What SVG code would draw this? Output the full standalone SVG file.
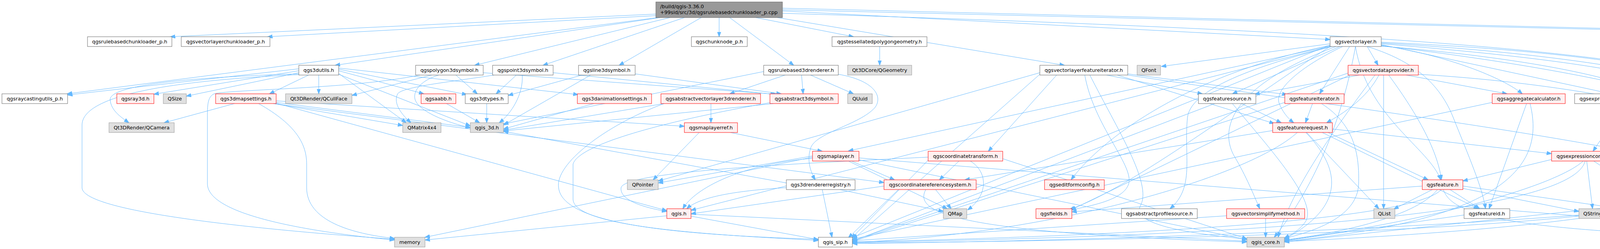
<svg xmlns="http://www.w3.org/2000/svg" width="5230" height="637" viewBox="0 0 5230 637">
<defs>
<marker id="a" viewBox="0 0 13 10" refX="12.5" refY="5" markerWidth="13" markerHeight="10" markerUnits="userSpaceOnUse" orient="auto"><path d="M0,0.3 L13,5 L0,9.7 z" fill="#63b8ff" stroke="#63b8ff" stroke-width="1"/></marker>
</defs>
<style>
.e path{fill:none;stroke:#63b8ff;stroke-width:1;marker-end:url(#a)}
.w rect{fill:#ffffff;stroke:#666666;stroke-width:1}
.r rect{fill:#fff0f0;stroke:#ff0000;stroke-width:1}
.g rect{fill:#e0e0e0;stroke:#999999;stroke-width:1}
.root rect{fill:#999999;stroke:#666666;stroke-width:1}
text{font-family:"DejaVu Sans","Liberation Sans",sans-serif;font-size:12.8px;fill:#000000;text-anchor:middle}
.root text{text-anchor:start}
</style>
<rect x="0" y="0" width="5230" height="637" fill="#ffffff"/>
<g id="connectors" class="e">
<path d="M1679,36 L436,94"/>
<path d="M1679,40 L685,94"/>
<path d="M1684,45 L172,240"/>
<path d="M1690,45 L858,167"/>
<path d="M1715,45 L1215,167"/>
<path d="M1752,45 L1390,167"/>
<path d="M1795,45 L1585,167"/>
<path d="M1841,45 L1841,94"/>
<path d="M1868,45 L2032,167"/>
<path d="M1935,45 L2185,94"/>
<path d="M2003,28 L3405,101"/>
<path d="M1990,45 L2725,167"/>
<path d="M2003,34 C4200,100 4800,180 4698,460"/>
<path d="M2003,25 L4928,95"/>
<path d="M2003,21 L5061,96"/>
<path d="M765,176 L173,243"/>
<path d="M765,181 L394,241"/>
<path d="M765,186 L477,246"/>
<path d="M790,192 L690,240"/>
<path d="M816,192 L816,240"/>
<path d="M765,189 C520,196 280,215 282,255 C284,283 310,300 330,314"/>
<path d="M867,181 L1085,240"/>
<path d="M867,177 L1195,242"/>
<path d="M867,188 L1040,314"/>
<path d="M867,190 L1204,322"/>
<path d="M867,174 L1480,242"/>
<path d="M765,191 C460,205 210,240 210,320 L210,480 C210,545 700,590 1010,612"/>
<path d="M1105,192 L901,244"/>
<path d="M1167,192 L1222,240"/>
<path d="M1123,192 C1080,205 1058,230 1062,252 C1068,285 1150,315 1204,327"/>
<path d="M1237,186 L1985,241"/>
<path d="M1075,192 C900,228 600,228 548,240 C531,248 531,270 531,300 L531,470 C531,560 860,600 1010,614"/>
<path d="M1322,192 L1270,240"/>
<path d="M1337,192 C1340,240 1310,290 1278,314"/>
<path d="M1265,192 C1150,210 1030,222 1018,240 C1005,265 1030,295 1052,314"/>
<path d="M1416,186 L1990,242"/>
<path d="M1490,192 L1301,244"/>
<path d="M1512,192 L1289,320"/>
<path d="M1626,189 L2000,240"/>
<path d="M662,265 C760,320 785,370 785,420 L785,480 C785,565 900,598 1010,610"/>
<path d="M600,265 L420,314"/>
<path d="M700,265 L1031,321"/>
<path d="M707,262 L1204,326"/>
<path d="M707,258 L1752,323"/>
<path d="M700,265 L2263,467"/>
<path d="M707,264 L1707,539"/>
<path d="M1246,265 L1246,314"/>
<path d="M1143,265 L1228,314"/>
<path d="M1520,265 L1289,330"/>
<path d="M1820,265 L1820,314"/>
<path d="M1700,265 L1289,333"/>
<path d="M1700,265 C1550,320 1420,420 1430,480 C1440,570 1700,600 2095,612"/>
<path d="M1980,265 L1289,335"/>
<path d="M1975,262 C1700,310 1480,370 1467,420 L1467,510 C1470,580 1800,600 2095,615"/>
<path d="M2010,192 L1868,240"/>
<path d="M2052,192 L2056,240"/>
<path d="M2075,192 L2185,240"/>
<path d="M1955,183 L1289,317"/>
<path d="M2146,190 C2235,205 2262,245 2240,275 C2200,320 2085,340 2075,380 C2065,410 2075,440 2087,460"/>
<path d="M2252,119 L2252,167"/>
<path d="M1870,339 L2105,387"/>
<path d="M1790,339 L1672,460"/>
<path d="M2180,412 L2290,460"/>
<path d="M2080,405 C1900,420 1780,480 1748,534"/>
<path d="M2199,409 L3192,613"/>
<path d="M2080,399 L1685,468"/>
<path d="M2172,412 L2425,534"/>
<path d="M2199,404 L4793,613"/>
<path d="M2080,402 L1088,607"/>
<path d="M2105,485 L2130,607"/>
<path d="M2150,485 L2415,541"/>
<path d="M2013,468 L1289,336"/>
<path d="M2013,480 C1850,490 1785,510 1758,534"/>
<path d="M2455,412 L2405,460"/>
<path d="M2484,412 C2530,440 2530,500 2477,537"/>
<path d="M2567,406 L3192,611"/>
<path d="M2376,410 L2180,609"/>
<path d="M2376,402 C2000,420 1600,440 1590,480 C1585,515 1660,533 1707,541"/>
<path d="M2395,485 L2435,534"/>
<path d="M2370,485 C2340,540 2420,595 3192,619"/>
<path d="M2300,485 L2172,608"/>
<path d="M2263,476 L1769,547"/>
<path d="M2833,192 L3078,240"/>
<path d="M2887,189 L3295,242"/>
<path d="M2860,192 L3262,316"/>
<path d="M2705,192 L2530,387"/>
<path d="M2777,192 C2800,320 2900,420 2890,468 C2880,510 2800,525 2742,537"/>
<path d="M2790,192 C2860,330 2950,470 2920,525 C2890,580 3080,600 3192,612"/>
<path d="M2662,190 L2182,614"/>
<path d="M2662,186 L1685,463"/>
<path d="M2887,192 C3600,300 4700,420 4805,607"/>
<path d="M3430,119 L3155,240"/>
<path d="M3455,119 L3378,240"/>
<path d="M3500,119 L3528,167"/>
<path d="M3437,119 C3330,170 3260,230 3275,265 C3285,290 3300,305 3312,314"/>
<path d="M3536,116 C3700,140 3850,200 3897,240"/>
<path d="M3536,114 L4125,240"/>
<path d="M3536,112 C4000,150 4420,200 4432,314"/>
<path d="M3470,119 C3500,300 3660,380 3688,460"/>
<path d="M3536,110 C4400,160 4770,300 4752,534"/>
<path d="M3536,108 C4500,150 4860,300 4830,607"/>
<path d="M3536,118 C4300,180 4500,320 4224,460"/>
<path d="M3536,117 C4250,200 4620,330 4580,400 C4550,440 4470,450 4425,460"/>
<path d="M3405,112 L2973,170"/>
<path d="M3405,116 C3000,200 2800,380 2742,460"/>
<path d="M3405,119 C3200,250 2900,480 2738,536"/>
<path d="M3410,119 C3250,160 3050,220 3040,300 C3030,400 3060,480 2995,534"/>
<path d="M3420,119 C3150,220 3120,330 3160,400 C3190,450 3210,500 3225,534"/>
<path d="M3405,118 L2172,386"/>
<path d="M3405,119 L1769,538"/>
<path d="M3405,115 L2182,608"/>
<path d="M3470,119 C3420,400 3300,560 3262,607"/>
<path d="M3500,119 C3600,150 3680,200 3720,300 C3760,400 3795,480 3803,534"/>
<path d="M3480,192 L3212,241"/>
<path d="M3530,192 C3500,250 3440,290 3396,314"/>
<path d="M3542,192 L3542,534"/>
<path d="M3555,192 C3620,280 3680,380 3690,460"/>
<path d="M3600,192 L3858,240"/>
<path d="M3455,192 L2742,537"/>
<path d="M3520,192 C3400,350 3300,500 3272,607"/>
<path d="M3451,187 L2182,616"/>
<path d="M3631,190 C4300,230 4800,400 4826,607"/>
<path d="M3178,265 L3280,314"/>
<path d="M3155,265 C3250,380 3380,520 3340,570 C3320,595 3300,603 3288,609"/>
<path d="M3110,265 L2182,617"/>
<path d="M3360,265 L3342,314"/>
<path d="M3383,265 C3470,320 3480,400 3478,470 C3476,560 3350,595 3288,610"/>
<path d="M3289,262 L2182,618"/>
<path d="M3343,339 C3420,420 3460,520 3288,612"/>
<path d="M3321,339 C3200,450 2700,600 2182,620"/>
<path d="M3345,339 L3530,534"/>
<path d="M3411,330 L3972,393"/>
<path d="M3400,339 L3656,460"/>
<path d="M3258,334 L2470,460"/>
<path d="M3385,339 L3785,534"/>
<path d="M3240,559 L3240,607"/>
<path d="M3140,552 L2182,616"/>
<path d="M3667,485 L3568,535"/>
<path d="M3712,485 L3788,534"/>
<path d="M3680,485 C3620,560 3400,600 3288,614"/>
<path d="M3690,485 C3600,580 2600,610 2182,619"/>
<path d="M3745,482 L4042,541"/>
<path d="M3745,476 L4150,534"/>
<path d="M3641,476 L2744,542"/>
<path d="M3695,485 C3720,560 3900,600 4793,616"/>
<path d="M3748,550 L3288,616"/>
<path d="M3908,265 L3812,534"/>
<path d="M3917,265 C3950,400 3900,560 3288,617"/>
<path d="M3820,262 L2182,612"/>
<path d="M4160,265 L4078,387"/>
<path d="M4370,339 L4125,387"/>
<path d="M4080,412 L4152,460"/>
<path d="M4062,412 L4077,534"/>
<path d="M3972,408 L3745,463"/>
<path d="M4053,412 C3990,470 3700,560 3288,615"/>
<path d="M4058,412 C4030,520 3500,600 2182,620"/>
<path d="M4150,410 C4550,395 4845,450 4830,607"/>
<path d="M4300,485 L4112,542"/>
<path d="M4322,485 L4212,536"/>
<path d="M4335,485 C4280,540 3900,590 3288,618"/>
<path d="M4340,485 C4300,560 3500,610 2182,622"/>
<path d="M4672,485 L4640,534"/>
<path d="M4693,485 L4735,534"/>
<path d="M4613,478 L3288,619"/>
<path d="M4613,482 C4300,560 3000,615 2182,623"/>
<path d="M4640,485 L4113,548"/>
<path d="M1707,552 L1088,614"/>
<path d="M1769,553 L2095,613"/>
<path d="M1769,548 L3192,617"/>
</g>
<g id="node-root" class="root"><rect x="1679" y="5" width="324" height="40"/><text x="1690" y="20.8">/build/qgis-3.36.0</text><text x="1690" y="35.8">+99sid/src/3d/qgsrulebasedchunkloader_p.cpp</text></g>
<g id="node-rbcl" class="w"><rect x="224" y="94" width="216" height="25"/><text x="332" y="111">qgsrulebasedchunkloader_p.h</text></g>
<g id="node-vlcl" class="w"><rect x="464" y="94" width="227" height="25"/><text x="577.5" y="111">qgsvectorlayerchunkloader_p.h</text></g>
<g id="node-chunknode" class="w"><rect x="1770" y="94" width="143" height="25"/><text x="1841.5" y="111">qgschunknode_p.h</text></g>
<g id="node-tess" class="w"><rect x="2130" y="94" width="243" height="25"/><text x="2251.5" y="111">qgstessellatedpolygongeometry.h</text></g>
<g id="node-vl" class="w"><rect x="3405" y="94" width="131" height="25"/><text x="3470.5" y="111">qgsvectorlayer.h</text></g>
<g id="node-qtconc" class="g"><rect x="4928" y="94" width="109" height="25"/><text x="4982.5" y="111">QtConcurrent</text></g>
<g id="node-qtransform" class="g"><rect x="5061" y="94" width="164" height="25"/><text x="5143" y="111">Qt3DCore/QTransform</text></g>
<g id="node-3dutils" class="w"><rect x="765" y="167" width="102" height="25"/><text x="816" y="184">qgs3dutils.h</text></g>
<g id="node-poly3d" class="w"><rect x="1064" y="167" width="173" height="25"/><text x="1150.5" y="184">qgspolygon3dsymbol.h</text></g>
<g id="node-point3d" class="w"><rect x="1261" y="167" width="155" height="25"/><text x="1338.5" y="184">qgspoint3dsymbol.h</text></g>
<g id="node-line3d" class="w"><rect x="1481" y="167" width="145" height="25"/><text x="1553.5" y="184">qgsline3dsymbol.h</text></g>
<g id="node-rb3drend" class="w"><rect x="1955" y="167" width="191" height="25"/><text x="2050.5" y="184">qgsrulebased3drenderer.h</text></g>
<g id="node-qgeom" class="g"><rect x="2170" y="167" width="164" height="25"/><text x="2252" y="184">Qt3DCore/QGeometry</text></g>
<g id="node-vlfi" class="w"><rect x="2662" y="167" width="225" height="25"/><text x="2774.5" y="184">qgsvectorlayerfeatureiterator.h</text></g>
<g id="node-qfont" class="g"><rect x="2911" y="167" width="60" height="25"/><text x="2941" y="184">QFont</text></g>
<g id="node-vdp" class="r"><rect x="3451" y="167" width="180" height="25"/><text x="3541" y="184">qgsvectordataprovider.h</text></g>
<g id="node-rcu" class="w"><rect x="5" y="240" width="168" height="25"/><text x="89" y="257">qgsraycastingutils_p.h</text></g>
<g id="node-ray3d" class="r"><rect x="299" y="240" width="95" height="25"/><text x="346.5" y="257">qgsray3d.h</text></g>
<g id="node-qsize" class="g"><rect x="418" y="240" width="59" height="25"/><text x="447.5" y="257">QSize</text></g>
<g id="node-3dms" class="r"><rect x="552" y="240" width="155" height="25"/><text x="629.5" y="257">qgs3dmapsettings.h</text></g>
<g id="node-cull" class="g"><rect x="731" y="240" width="170" height="25"/><text x="816" y="257">Qt3DRender/QCullFace</text></g>
<g id="node-aabb" class="r"><rect x="1078" y="240" width="89" height="25"/><text x="1122.5" y="257">qgsaabb.h</text></g>
<g id="node-3dtypes" class="w"><rect x="1191" y="240" width="110" height="25"/><text x="1246" y="257">qgs3dtypes.h</text></g>
<g id="node-3danim" class="r"><rect x="1478" y="240" width="190" height="25"/><text x="1573" y="257">qgs3danimationsettings.h</text></g>
<g id="node-avl3dr" class="r"><rect x="1692" y="240" width="255" height="25"/><text x="1819.5" y="257">qgsabstractvectorlayer3drenderer.h</text></g>
<g id="node-a3dsym" class="r"><rect x="1971" y="240" width="175" height="25"/><text x="2058.5" y="257">qgsabstract3dsymbol.h</text></g>
<g id="node-quuid" class="g"><rect x="2170" y="240" width="63" height="25"/><text x="2201.5" y="257">QUuid</text></g>
<g id="node-fsrc" class="w"><rect x="3068" y="240" width="147" height="25"/><text x="3141.5" y="257">qgsfeaturesource.h</text></g>
<g id="node-fit" class="r"><rect x="3289" y="240" width="152" height="25"/><text x="3365" y="257">qgsfeatureiterator.h</text></g>
<g id="node-aggr" class="r"><rect x="3820" y="240" width="187" height="25"/><text x="3913.5" y="257">qgsaggregatecalculator.h</text></g>
<g id="node-ecsg" class="w"><rect x="4031" y="240" width="277" height="25"/><text x="4169.5" y="257">qgsexpressioncontextscopegenerator.h</text></g>
<g id="node-qcam" class="g"><rect x="279" y="314" width="167" height="25"/><text x="362.5" y="331">Qt3DRender/QCamera</text></g>
<g id="node-qmat" class="g"><rect x="1031" y="314" width="98" height="25"/><text x="1080" y="331">QMatrix4x4</text></g>
<g id="node-qgis3d" class="g"><rect x="1204" y="314" width="85" height="25"/><text x="1246.5" y="331">qgis_3d.h</text></g>
<g id="node-mlref" class="r"><rect x="1752" y="314" width="136" height="25"/><text x="1820" y="331">qgsmaplayerref.h</text></g>
<g id="node-freq" class="r"><rect x="3258" y="314" width="153" height="25"/><text x="3334.5" y="331">qgsfeaturerequest.h</text></g>
<g id="node-ecg" class="w"><rect x="4309" y="314" width="239" height="25"/><text x="4428.5" y="331">qgsexpressioncontextgenerator.h</text></g>
<g id="node-ml" class="r"><rect x="2080" y="387" width="119" height="25"/><text x="2139.5" y="404">qgsmaplayer.h</text></g>
<g id="node-ct" class="r"><rect x="2376" y="387" width="191" height="25"/><text x="2471.5" y="404">qgscoordinatetransform.h</text></g>
<g id="node-ec" class="r"><rect x="3972" y="387" width="178" height="25"/><text x="4061" y="404">qgsexpressioncontext.h</text></g>
<g id="node-qptr" class="g"><rect x="1606" y="460" width="79" height="25"/><text x="1645.5" y="477">QPointer</text></g>
<g id="node-3drreg" class="w"><rect x="2013" y="460" width="176" height="25"/><text x="2101" y="477">qgs3drendererregistry.h</text></g>
<g id="node-crs" class="r"><rect x="2263" y="460" width="236" height="25"/><text x="2381" y="477">qgscoordinatereferencesystem.h</text></g>
<g id="node-efc" class="r"><rect x="2674" y="460" width="153" height="25"/><text x="2750.5" y="477">qgseditformconfig.h</text></g>
<g id="node-feat" class="r"><rect x="3641" y="460" width="104" height="25"/><text x="3693" y="477">qgsfeature.h</text></g>
<g id="node-qsl" class="g"><rect x="4133" y="460" width="94" height="25"/><text x="4180" y="477">QStringList</text></g>
<g id="node-atc" class="r"><rect x="4251" y="460" width="186" height="25"/><text x="4344" y="477">qgsattributetableconfig.h</text></g>
<g id="node-evt" class="w"><rect x="4613" y="460" width="139" height="25"/><text x="4682.5" y="477">qgseventtracing.h</text></g>
<g id="node-qgis" class="r"><rect x="1707" y="534" width="62" height="25"/><text x="1738" y="551">qgis.h</text></g>
<g id="node-qmap" class="g"><rect x="2415" y="534" width="60" height="25"/><text x="2445" y="551">QMap</text></g>
<g id="node-fields" class="r"><rect x="2652" y="534" width="92" height="25"/><text x="2698" y="551">qgsfields.h</text></g>
<g id="node-aps" class="w"><rect x="2871" y="534" width="194" height="25"/><text x="2968" y="551">qgsabstractprofilesource.h</text></g>
<g id="node-vsm" class="r"><rect x="3140" y="534" width="200" height="25"/><text x="3240" y="551">qgsvectorsimplifymethod.h</text></g>
<g id="node-qlist" class="g"><rect x="3517" y="534" width="54" height="25"/><text x="3544" y="551">QList</text></g>
<g id="node-fid" class="w"><rect x="3748" y="534" width="117" height="25"/><text x="3806.5" y="551">qgsfeatureid.h</text></g>
<g id="node-qstr" class="g"><rect x="4042" y="534" width="71" height="25"/><text x="4077.5" y="551">QString</text></g>
<g id="node-qvec" class="g"><rect x="4143" y="534" width="74" height="25"/><text x="4180" y="551">QVector</text></g>
<g id="node-qet" class="g"><rect x="4563" y="534" width="122" height="25"/><text x="4624" y="551">QElapsedTimer</text></g>
<g id="node-qmutex" class="g"><rect x="4709" y="534" width="73" height="25"/><text x="4745.5" y="551">QMutex</text></g>
<g id="node-mem" class="g"><rect x="1010" y="607" width="78" height="25"/><text x="1049" y="624">memory</text></g>
<g id="node-sip" class="w"><rect x="2095" y="607" width="87" height="25"/><text x="2138.5" y="624">qgis_sip.h</text></g>
<g id="node-core" class="g"><rect x="3192" y="607" width="96" height="25"/><text x="3240" y="624">qgis_core.h</text></g>
<g id="node-qset" class="g"><rect x="4793" y="607" width="54" height="25"/><text x="4820" y="624">QSet</text></g>
</svg>
